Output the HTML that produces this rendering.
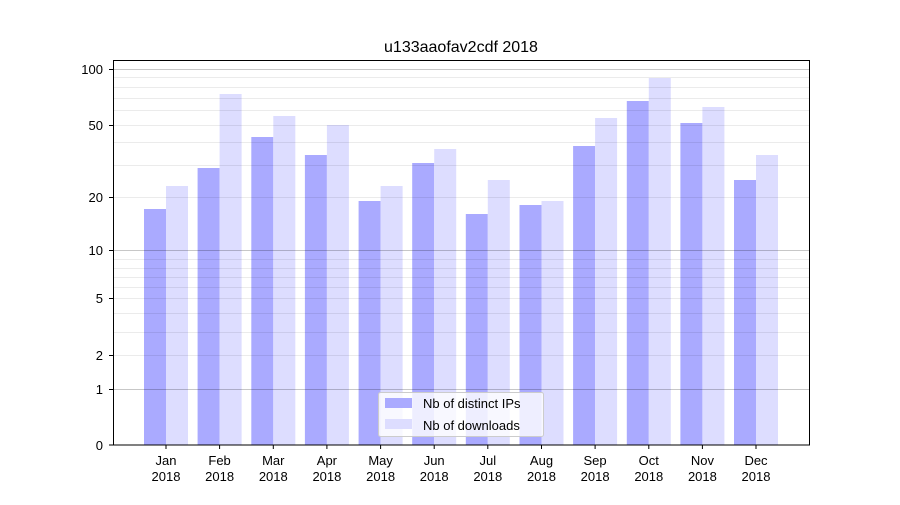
<!DOCTYPE html><html><head><style>body{margin:0;background:#fff}svg text{font-family:"Liberation Sans",sans-serif;font-size:13px;fill:#000}</style></head><body>
<svg width="900" height="500" xmlns="http://www.w3.org/2000/svg">
<rect width="900" height="500" fill="#fff"/>
<g>
<rect x="144" y="209" width="22" height="236" fill="#aaaaff"/><rect x="166" y="186" width="22" height="259" fill="#ddddff"/>
<rect x="197.6" y="168" width="22" height="277" fill="#aaaaff"/><rect x="219.6" y="94" width="22" height="351" fill="#ddddff"/>
<rect x="251.3" y="137" width="22" height="308" fill="#aaaaff"/><rect x="273.3" y="116" width="22" height="329" fill="#ddddff"/>
<rect x="304.9" y="155" width="22" height="290" fill="#aaaaff"/><rect x="326.9" y="125" width="22" height="320" fill="#ddddff"/>
<rect x="358.6" y="201" width="22" height="244" fill="#aaaaff"/><rect x="380.6" y="186" width="22" height="259" fill="#ddddff"/>
<rect x="412.2" y="163" width="22" height="282" fill="#aaaaff"/><rect x="434.2" y="149" width="22" height="296" fill="#ddddff"/>
<rect x="465.8" y="214" width="22" height="231" fill="#aaaaff"/><rect x="487.8" y="180" width="22" height="265" fill="#ddddff"/>
<rect x="519.5" y="205" width="22" height="240" fill="#aaaaff"/><rect x="541.5" y="201" width="22" height="244" fill="#ddddff"/>
<rect x="573.1" y="146" width="22" height="299" fill="#aaaaff"/><rect x="595.1" y="118" width="22" height="327" fill="#ddddff"/>
<rect x="626.8" y="101" width="22" height="344" fill="#aaaaff"/><rect x="648.8" y="78" width="22" height="367" fill="#ddddff"/>
<rect x="680.4" y="123" width="22" height="322" fill="#aaaaff"/><rect x="702.4" y="107" width="22" height="338" fill="#ddddff"/>
<rect x="734" y="180" width="22" height="265" fill="#aaaaff"/><rect x="756" y="155" width="22" height="290" fill="#ddddff"/>
</g>
<g stroke="#000" stroke-opacity="0.08" stroke-width="1">
<line x1="113" x2="810" y1="77.5" y2="77.5"/><line x1="113" x2="810" y1="87.5" y2="87.5"/><line x1="113" x2="810" y1="98.5" y2="98.5"/><line x1="113" x2="810" y1="110.5" y2="110.5"/><line x1="113" x2="810" y1="125.5" y2="125.5"/><line x1="113" x2="810" y1="142.5" y2="142.5"/><line x1="113" x2="810" y1="165.5" y2="165.5"/><line x1="113" x2="810" y1="197.5" y2="197.5"/>
<line x1="113" x2="810" y1="259.5" y2="259.5"/><line x1="113" x2="810" y1="268.5" y2="268.5"/><line x1="113" x2="810" y1="277.5" y2="277.5"/><line x1="113" x2="810" y1="287.5" y2="287.5"/><line x1="113" x2="810" y1="298.5" y2="298.5"/><line x1="113" x2="810" y1="313.5" y2="313.5"/><line x1="113" x2="810" y1="332.5" y2="332.5"/><line x1="113" x2="810" y1="355.5" y2="355.5"/>
</g>
<g stroke="#000" stroke-opacity="0.22"><line x1="113" x2="810" y1="69.5" y2="69.5"/><line x1="113" x2="810" y1="250.5" y2="250.5"/><line x1="113" x2="810" y1="389.5" y2="389.5"/></g>
<rect x="113.5" y="60.5" width="696" height="384.5" fill="none" stroke="#000"/>
<g text-anchor="end">
<text x="103" y="74">100</text><text x="103" y="130">50</text><text x="103" y="202">20</text><text x="103" y="255">10</text><text x="103" y="303">5</text><text x="103" y="360">2</text><text x="103" y="394">1</text><text x="103" y="450">0</text>
</g>
<g stroke="#000"><line x1="109" x2="113" y1="69.5" y2="69.5"/><line x1="109" x2="113" y1="125.5" y2="125.5"/><line x1="109" x2="113" y1="197.5" y2="197.5"/><line x1="109" x2="113" y1="250.5" y2="250.5"/><line x1="109" x2="113" y1="298.5" y2="298.5"/><line x1="109" x2="113" y1="355.5" y2="355.5"/><line x1="109" x2="113" y1="389.5" y2="389.5"/><line x1="109" x2="113" y1="445" y2="445"/></g>
<text x="461" y="52" text-anchor="middle" style="font-size:16px">u133aaofav2cdf 2018</text>
<g stroke="#000">
<line x1="166" x2="166" y1="445" y2="449"/><line x1="219.6" x2="219.6" y1="445" y2="449"/><line x1="273.3" x2="273.3" y1="445" y2="449"/><line x1="326.9" x2="326.9" y1="445" y2="449"/><line x1="380.6" x2="380.6" y1="445" y2="449"/><line x1="434.2" x2="434.2" y1="445" y2="449"/><line x1="487.8" x2="487.8" y1="445" y2="449"/><line x1="541.5" x2="541.5" y1="445" y2="449"/><line x1="595.1" x2="595.1" y1="445" y2="449"/><line x1="648.8" x2="648.8" y1="445" y2="449"/><line x1="702.4" x2="702.4" y1="445" y2="449"/><line x1="756" x2="756" y1="445" y2="449"/>
</g>
<g text-anchor="middle">
<text x="166" y="465">Jan</text><text x="166" y="481">2018</text>
<text x="219.6" y="465">Feb</text><text x="219.6" y="481">2018</text>
<text x="273.3" y="465">Mar</text><text x="273.3" y="481">2018</text>
<text x="326.9" y="465">Apr</text><text x="326.9" y="481">2018</text>
<text x="380.6" y="465">May</text><text x="380.6" y="481">2018</text>
<text x="434.2" y="465">Jun</text><text x="434.2" y="481">2018</text>
<text x="487.8" y="465">Jul</text><text x="487.8" y="481">2018</text>
<text x="541.5" y="465">Aug</text><text x="541.5" y="481">2018</text>
<text x="595.1" y="465">Sep</text><text x="595.1" y="481">2018</text>
<text x="648.8" y="465">Oct</text><text x="648.8" y="481">2018</text>
<text x="702.4" y="465">Nov</text><text x="702.4" y="481">2018</text>
<text x="756" y="465">Dec</text><text x="756" y="481">2018</text>
</g>
<rect x="378.5" y="392.5" width="165" height="44" rx="2" fill="#fff" fill-opacity="0.8" stroke="#ccc"/>
<rect x="385" y="398" width="27" height="10" fill="#aaaaff"/><rect x="385" y="419" width="27" height="10" fill="#ddddff"/>
<text x="423" y="408">Nb of distinct IPs</text><text x="423" y="430">Nb of downloads</text>
</svg></body></html>
